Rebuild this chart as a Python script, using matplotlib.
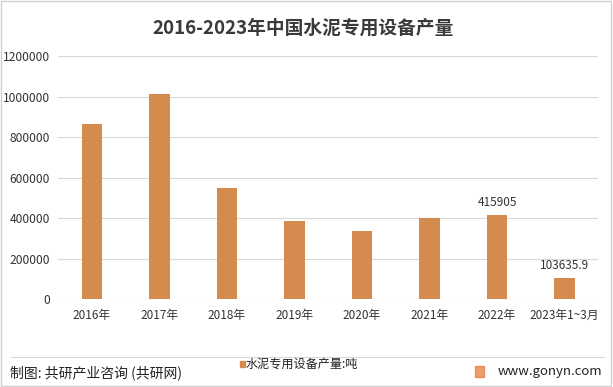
import numpy as np
import matplotlib.pyplot as plt
from matplotlib.patches import Rectangle

plt.rcParams['font.family'] = ['Noto Sans CJK SC', 'DejaVu Sans']

years = ['2016年', '2017年', '2018年', '2019年', '2020年', '2021年', '2022年', '2023年1~3月']
output = [864000, 1012000, 548000, 386000, 336000, 401000, 415905, 103635.9]
labels = {6: '415905', 7: '103635.9'}

bar_color = '#D58B4D'
grid_color = '#D9D9D9'
text_color = '#333333'

fig = plt.figure(figsize=(6.13, 3.87), dpi=100)
ax = fig.add_axes([0.095, 0.227, 0.881, 0.628])

x = np.arange(len(years))
ax.bar(x, output, width=0.31, color=bar_color, zorder=2)
for i, s in labels.items():
    ax.text(x[i], output[i] + 30000, s, ha='center', va='bottom', fontsize=8.5, color=text_color)

ax.set_xlim(-0.5, len(years) - 0.5)
ax.set_ylim(0, 1200000)
ax.set_yticks(np.arange(0, 1200001, 200000))
ax.set_yticklabels([str(v) for v in range(0, 1200001, 200000)], fontsize=8.7, color=text_color)
ax.set_xticks(x)
ax.set_xticklabels(years, fontsize=8.5, color=text_color)
ax.tick_params(length=0, pad=6)
ax.tick_params(axis='x', pad=7)
ax.grid(axis='y', color=grid_color, linewidth=0.8, zorder=0)
for sp in ax.spines.values():
    sp.set_visible(False)
ax.axhline(0, color=grid_color, linewidth=0.8, zorder=1)

fig.text(0.495, 0.928, '2016-2023年中国水泥专用设备产量', ha='center', va='center',
         fontsize=13.5, fontweight='bold', color='#3a3a3a')

# footer
fig.add_artist(plt.Line2D([0.018, 0.985], [0.078, 0.078], color=grid_color, linewidth=0.8))
fig.text(0.016, 0.036, '制图: 共研产业咨询 (共研网)', ha='left', va='center', fontsize=10, color='#222222')
fig.add_artist(Rectangle((0.391, 0.052), 0.009, 0.014, color=bar_color, transform=fig.transFigure))
fig.text(0.401, 0.059, '水泥专用设备产量:吨', ha='left', va='center', fontsize=8.7, color='#222222')
fig.add_artist(Rectangle((0.775, 0.025), 0.015, 0.028, color='#E8824A', alpha=0.8, transform=fig.transFigure))
fig.text(0.983, 0.040, 'www.gonyn.com', ha='right', va='center', fontsize=9.5, color='#222222')

fig.add_artist(Rectangle((0.002, 0.003), 0.995, 0.994, fill=False, edgecolor='#D0D0D0',
                         linewidth=1, transform=fig.transFigure))

fig.savefig('out.png', dpi=100)
